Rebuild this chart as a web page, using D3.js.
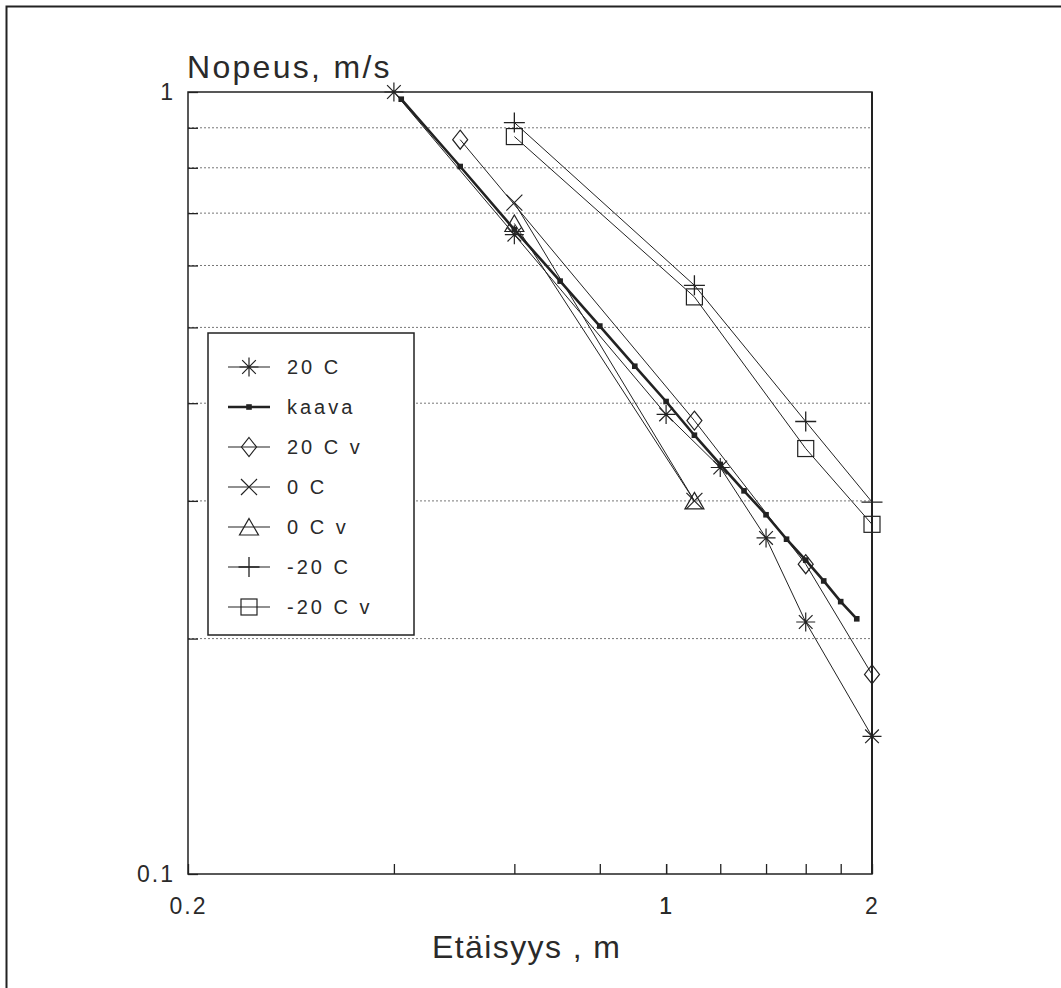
<!DOCTYPE html>
<html>
<head>
<meta charset="utf-8">
<script src="https://cdn.jsdelivr.net/npm/d3@7"></script>
<style>
  html, body { margin: 0; padding: 0; background: #fff; overflow: hidden; }
  svg { display: block; }
  text { font-family: "Liberation Sans", Arial, sans-serif; fill: #2a2a2a; }
</style>
</head>
<body>
<script>
// Mittaustulokset: etäisyys (m) ja nopeus (m/s)
const xs20C = [0.4, 0.6, 1.0, 1.2, 1.4, 1.6, 2.0];
const v20C = [1.0, 0.657, 0.387, 0.331, 0.269, 0.21, 0.15];

const xsKaava = [0.41, 0.5, 0.6, 0.7, 0.8, 0.9, 1.0, 1.1, 1.2, 1.3, 1.4, 1.5, 1.6, 1.7, 1.8, 1.9];
const vKaava = [0.979, 0.803, 0.667, 0.573, 0.502, 0.446, 0.402, 0.364, 0.334, 0.309, 0.288, 0.268, 0.252, 0.237, 0.223, 0.212];

const xs20Cv = [0.5, 1.1, 1.6, 2.0];
const v20Cv = [0.869, 0.38, 0.249, 0.18];

const xs0C = [0.6, 1.1];
const v0C = [0.722, 0.30];

const xs0Cv = [0.6, 1.1];
const v0Cv = [0.679, 0.30];

const xsM20C = [0.6, 1.1, 1.6, 2.0];
const vM20C = [0.914, 0.566, 0.379, 0.299];

const xsM20Cv = [0.6, 1.1, 1.6, 2.0];
const vM20Cv = [0.877, 0.547, 0.35, 0.28];

const seriesNames = ["20 C", "kaava", "20 C v", "0 C", "0 C v", "-20 C", "-20 C v"];
const seriesMarkers = ["asterisk", "dot", "diamond", "cross", "triangle", "plus", "square"];

const xTicks = [0.4, 0.6, 0.8, 1, 1.2, 1.4, 1.6, 1.8];
const xLabels = [0.2, 1, 2];
const yGrid = [0.2, 0.3, 0.4, 0.5, 0.6, 0.7, 0.8, 0.9];
const yLabels = [0.1, 1];

const W = 1061, H = 988;
const pLeft = 188, pRight = 872, pTop = 92, pBottom = 874;

const x = d3.scaleLog().domain([0.2, 2]).range([pLeft, pRight]);
const y = d3.scaleLog().domain([0.1, 1]).range([pBottom, pTop]);

const svg = d3.select("body").append("svg")
    .attr("width", W).attr("height", H);

// Kehys kuvan ympärillä (vasen ja ylä)
svg.append("path")
    .attr("d", `M6.5,${H} V6.5 H${W}`)
    .attr("fill", "none").attr("stroke", "#222").attr("stroke-width", 2);

// Vaakasuorat apuviivat
svg.append("g").selectAll("line")
    .data(yGrid).enter().append("line")
    .attr("x1", pLeft).attr("x2", pRight)
    .attr("y1", d => y(d)).attr("y2", d => y(d))
    .attr("stroke", "#777").attr("stroke-width", 1)
    .attr("stroke-dasharray", "2,2");

// Akselit
const xAxis = d3.axisBottom(x)
    .tickValues(xTicks.concat(xLabels))
    .tickFormat(d => xLabels.includes(d) ? String(d) : "")
    .tickSizeInner(-10).tickSizeOuter(0).tickPadding(24);
const gx = svg.append("g").attr("transform", `translate(0,${pBottom})`).call(xAxis);

const yAxis = d3.axisLeft(y)
    .tickValues(yGrid.concat(yLabels))
    .tickFormat(d => yLabels.includes(d) ? String(d) : "")
    .tickSizeInner(-10).tickSizeOuter(0).tickPadding(13);
const gy = svg.append("g").attr("transform", `translate(${pLeft},0)`).call(yAxis);

[gx, gy].forEach(g => {
    g.select(".domain").remove();
    g.selectAll("line").attr("stroke", "#222").attr("stroke-width", 1.3);
    g.selectAll("text")
        .attr("font-size", 23).attr("fill", "#2a2a2a")
        .style("letter-spacing", "2px")
        .attr("font-family", "Liberation Sans, Arial, sans-serif");
});

// Kuva-alueen reunat
svg.append("rect")
    .attr("x", pLeft).attr("y", pTop)
    .attr("width", pRight - pLeft).attr("height", pBottom - pTop)
    .attr("fill", "none").attr("stroke", "#222").attr("stroke-width", 1.5);
svg.append("line")
    .attr("x1", pRight).attr("x2", pRight).attr("y1", pTop).attr("y2", pBottom)
    .attr("stroke", "#222").attr("stroke-width", 2);

// Akselien otsikot
svg.append("text")
    .attr("x", 187).attr("y", 78)
    .attr("font-size", 32).style("letter-spacing", "2.3px")
    .text("Nopeus, m/s");
svg.append("text")
    .attr("x", 432).attr("y", 958)
    .attr("font-size", 32).style("letter-spacing", "1.4px")
    .text("Etäisyys , m");

// Merkkisymbolit
function drawMarker(g, type, cx, cy) {
    const s = "#222";
    if (type === "asterisk") {
        const r = 9.5, q = r * 0.72;
        g.append("path")
            .attr("d", `M${cx - r},${cy}H${cx + r}M${cx},${cy - r}V${cy + r}` +
                `M${cx - q},${cy - q}L${cx + q},${cy + q}M${cx - q},${cy + q}L${cx + q},${cy - q}`)
            .attr("stroke", s).attr("stroke-width", 1.2).attr("fill", "none");
    } else if (type === "dot") {
        g.append("rect")
            .attr("x", cx - 2.8).attr("y", cy - 2.8).attr("width", 5.6).attr("height", 5.6)
            .attr("fill", s);
    } else if (type === "diamond") {
        g.append("path")
            .attr("d", `M${cx},${cy - 9.5}L${cx + 7.5},${cy}L${cx},${cy + 9.5}L${cx - 7.5},${cy}Z`)
            .attr("stroke", s).attr("stroke-width", 1.2).attr("fill", "none");
    } else if (type === "cross") {
        const r = 8;
        g.append("path")
            .attr("d", `M${cx - r},${cy - r}L${cx + r},${cy + r}M${cx - r},${cy + r}L${cx + r},${cy - r}`)
            .attr("stroke", s).attr("stroke-width", 1.2).attr("fill", "none");
    } else if (type === "triangle") {
        g.append("path")
            .attr("d", `M${cx},${cy - 8.5}L${cx + 9.5},${cy + 8}L${cx - 9.5},${cy + 8}Z`)
            .attr("stroke", s).attr("stroke-width", 1.2).attr("fill", "none");
    } else if (type === "plus") {
        g.append("path")
            .attr("d", `M${cx - 10.5},${cy}H${cx + 10.5}M${cx},${cy - 10}V${cy + 10}`)
            .attr("stroke", s).attr("stroke-width", 1.3).attr("fill", "none");
    } else if (type === "square") {
        g.append("rect")
            .attr("x", cx - 8).attr("y", cy - 8).attr("width", 16).attr("height", 16)
            .attr("stroke", s).attr("stroke-width", 1.2).attr("fill", "none");
    }
}

const allX = [xs20C, xsKaava, xs20Cv, xs0C, xs0Cv, xsM20C, xsM20Cv];
const allV = [v20C, vKaava, v20Cv, v0C, v0Cv, vM20C, vM20Cv];

const line = d3.line().x(d => x(d[0])).y(d => y(d[1]));

const plot = svg.append("g");
allX.forEach((xs, i) => {
    const pts = xs.map((d, j) => [d, allV[i][j]]);
    plot.append("path")
        .datum(pts)
        .attr("d", line)
        .attr("fill", "none")
        .attr("stroke", "#222")
        .attr("stroke-width", seriesMarkers[i] === "dot" ? 2.6 : 1);
    pts.forEach(p => drawMarker(plot, seriesMarkers[i], x(p[0]), y(p[1])));
});

// Selite
const lg = svg.append("g");
lg.append("rect")
    .attr("x", 208).attr("y", 333).attr("width", 206).attr("height", 302)
    .attr("fill", "#fff").attr("stroke", "#222").attr("stroke-width", 1.5);
seriesNames.forEach((name, i) => {
    const ly = 367 + i * 40;
    lg.append("line")
        .attr("x1", 228).attr("x2", 270).attr("y1", ly).attr("y2", ly)
        .attr("stroke", "#222").attr("stroke-width", seriesMarkers[i] === "dot" ? 2.6 : 1.2);
    drawMarker(lg, seriesMarkers[i], 249, ly);
    lg.append("text")
        .attr("x", 287).attr("y", ly + 7)
        .attr("font-size", 20).style("letter-spacing", "3px")
        .text(name);
});
</script>
</body>
</html>
